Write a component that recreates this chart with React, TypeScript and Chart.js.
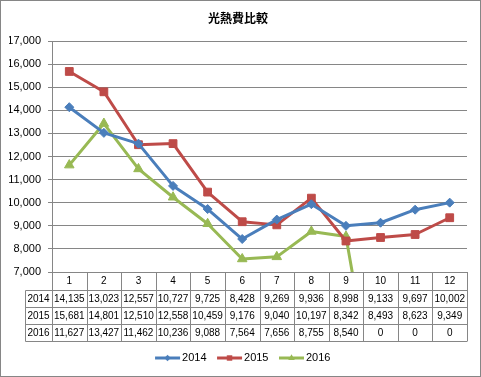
import React, { useEffect, useRef } from 'react';
import { Chart, registerables } from 'chart.js';

Chart.register(...registerables);

const TITLE = '光熱費比較';
const CATEGORIES = ['1', '2', '3', '4', '5', '6', '7', '8', '9', '10', '11', '12'];
const SERIES_NAMES = ['2014', '2015', '2016'];
const VALUES_2014 = [14135, 13023, 12557, 10727, 9725, 8428, 9269, 9936, 8998, 9133, 9697, 10002];
const VALUES_2015 = [15681, 14801, 12510, 12558, 10459, 9176, 9040, 10197, 8342, 8493, 8623, 9349];
const VALUES_2016 = [11627, 13427, 11462, 10236, 9088, 7564, 7656, 8755, 8540, 0, 0, 0];
const Y_MIN = 7000;
const Y_MAX = 17000;
const Y_STEP = 1000;

const SERIES_VALUES = [VALUES_2014, VALUES_2015, VALUES_2016];
const COLORS = ['#4A7EBB', '#BE4B48', '#98B954'];
const MARKERS = ['rectRot', 'rect', 'triangle'];
const MARKER_RADIUS = [4.5, 5.5, 5.5];
const GRID = '#868686';
const FONT = '"Liberation Sans", Arial, sans-serif';

const fmt = (v: number) => v.toLocaleString('en-US');

function drawMarker(ctx: CanvasRenderingContext2D, shape: string, x: number, y: number, r: number) {
  ctx.beginPath();
  if (shape === 'rectRot') {
    ctx.moveTo(x, y - r);
    ctx.lineTo(x + r, y);
    ctx.lineTo(x, y + r);
    ctx.lineTo(x - r, y);
  } else if (shape === 'rect') {
    const s = r * Math.SQRT1_2;
    ctx.rect(x - s, y - s, 2 * s, 2 * s);
  } else {
    ctx.moveTo(x, y - r);
    ctx.lineTo(x + r * 0.866, y + r * 0.5);
    ctx.lineTo(x - r * 0.866, y + r * 0.5);
  }
  ctx.closePath();
  ctx.fill();
}

function makeLegendImage(color: string, shape: string, r: number) {
  const c = document.createElement('canvas');
  c.width = 50;
  c.height = 14;
  const g = c.getContext('2d')!;
  g.strokeStyle = color;
  g.fillStyle = color;
  g.lineWidth = 3;
  g.beginPath();
  g.moveTo(19, 7);
  g.lineTo(44, 7);
  g.stroke();
  drawMarker(g, shape, 31.5, 7, r * 0.7);
  return c;
}

const tablePlugin = {
  id: 'dataTable',
  beforeDraw(chart: any) {
    const ctx = chart.ctx;
    ctx.save();
    ctx.fillStyle = '#ffffff';
    ctx.fillRect(0, 0, chart.width, chart.height);
    ctx.restore();
  },
  afterDraw(chart: any) {
    const ctx: CanvasRenderingContext2D = chart.ctx;
    const xs = chart.scales.x;
    const area = chart.chartArea;
    const n = CATEGORIES.length;
    const left = xs.left;
    const right = xs.right;
    const colW = (right - left) / n;
    const top = Math.round(area.bottom);
    const headerH = 18;
    const rowH = 17;
    const labelLeft = left - 27;
    const bottom = top + headerH + rowH * SERIES_VALUES.length;
    const px = (v: number) => Math.round(v) + 0.5;

    ctx.save();
    ctx.strokeStyle = GRID;
    ctx.lineWidth = 1;
    ctx.beginPath();
    ctx.moveTo(left, px(top));
    ctx.lineTo(right, px(top));
    for (let r = 0; r <= SERIES_VALUES.length; r++) {
      const y = px(top + headerH + r * rowH);
      ctx.moveTo(px(labelLeft), y);
      ctx.lineTo(right, y);
    }
    for (let i = 0; i <= n; i++) {
      const x = px(left + i * colW);
      ctx.moveTo(x, top);
      ctx.lineTo(x, px(bottom));
    }
    ctx.moveTo(px(labelLeft), px(top + headerH));
    ctx.lineTo(px(labelLeft), px(bottom));
    ctx.stroke();

    ctx.fillStyle = '#000000';
    ctx.font = '10px ' + FONT;
    ctx.textAlign = 'center';
    ctx.textBaseline = 'middle';
    CATEGORIES.forEach((c, i) => {
      ctx.fillText(c, xs.getPixelForValue(i), top + headerH / 2 + 0.5);
    });
    SERIES_VALUES.forEach((vals, r) => {
      const y = top + headerH + r * rowH + rowH / 2 + 0.5;
      ctx.fillText(SERIES_NAMES[r], (labelLeft + left) / 2, y);
      vals.forEach((v, i) => {
        ctx.fillText(fmt(v), xs.getPixelForValue(i), y);
      });
    });

    ctx.strokeStyle = GRID;
    ctx.strokeRect(0.5, 0.5, chart.width - 1, chart.height - 1);
    ctx.restore();
  },
};

export default function App() {
  const ref = useRef<HTMLCanvasElement>(null);

  useEffect(() => {
    if (!ref.current) return;
    const legendImages = SERIES_NAMES.map((_, i) => makeLegendImage(COLORS[i], MARKERS[i], MARKER_RADIUS[i]));
    const chart = new Chart(ref.current, {
      type: 'line',
      data: {
        labels: CATEGORIES,
        datasets: SERIES_NAMES.map((name, i) => ({
          label: name,
          data: SERIES_VALUES[i],
          borderColor: COLORS[i],
          backgroundColor: COLORS[i],
          borderWidth: 3,
          pointStyle: MARKERS[i] as any,
          pointRadius: MARKER_RADIUS[i],
          pointBackgroundColor: COLORS[i],
          pointBorderColor: COLORS[i],
          pointBorderWidth: 1,
          tension: 0,
          borderJoinStyle: 'round' as const,
        })),
      },
      options: {
        animation: false,
        responsive: false,
        devicePixelRatio: 1,
        layout: { padding: { left: 9, right: 14, top: 0, bottom: 3.5 } },
        font: { family: FONT },
        scales: {
          x: {
            type: 'category',
            offset: true,
            grid: { display: false },
            border: { display: false },
            ticks: { display: false },
            afterFit: (s: any) => {
              s.height = 79.5;
            },
          },
          y: {
            min: Y_MIN,
            max: Y_MAX,
            grid: { color: GRID, lineWidth: 1, tickLength: 4 },
            border: { color: GRID },
            ticks: {
              stepSize: Y_STEP,
              padding: 7,
              color: '#000000',
              font: { size: 11, family: FONT },
              callback: (v: any) => fmt(Number(v)),
            },
            afterFit: (s: any) => {
              s.width = 43;
            },
          },
        },
        plugins: {
          title: {
            display: true,
            text: TITLE,
            color: '#000000',
            font: { size: 12, weight: 'bold', family: '"Noto Sans CJK JP", sans-serif' },
            padding: { top: 11, bottom: 15.6 },
          },
          legend: {
            display: true,
            position: 'bottom',
            labels: {
              usePointStyle: true,
              pointStyleWidth: 31,
              padding: 1,
              color: '#000000',
              font: { size: 11, family: FONT },
              generateLabels: (c: any) => {
                const base = Chart.defaults.plugins.legend.labels.generateLabels(c);
                return base.map((item: any, i: number) => ({ ...item, pointStyle: legendImages[i] }));
              },
            },
          },
          tooltip: { enabled: false },
        },
      },
      plugins: [tablePlugin],
    });
    return () => chart.destroy();
  }, []);

  return (
    <div style={{ position: 'fixed', left: 0, top: 0, width: 481, height: 377 }}>
      <canvas ref={ref} width={481} height={377} style={{ display: 'block', width: 481, height: 377 }} />
    </div>
  );
}
